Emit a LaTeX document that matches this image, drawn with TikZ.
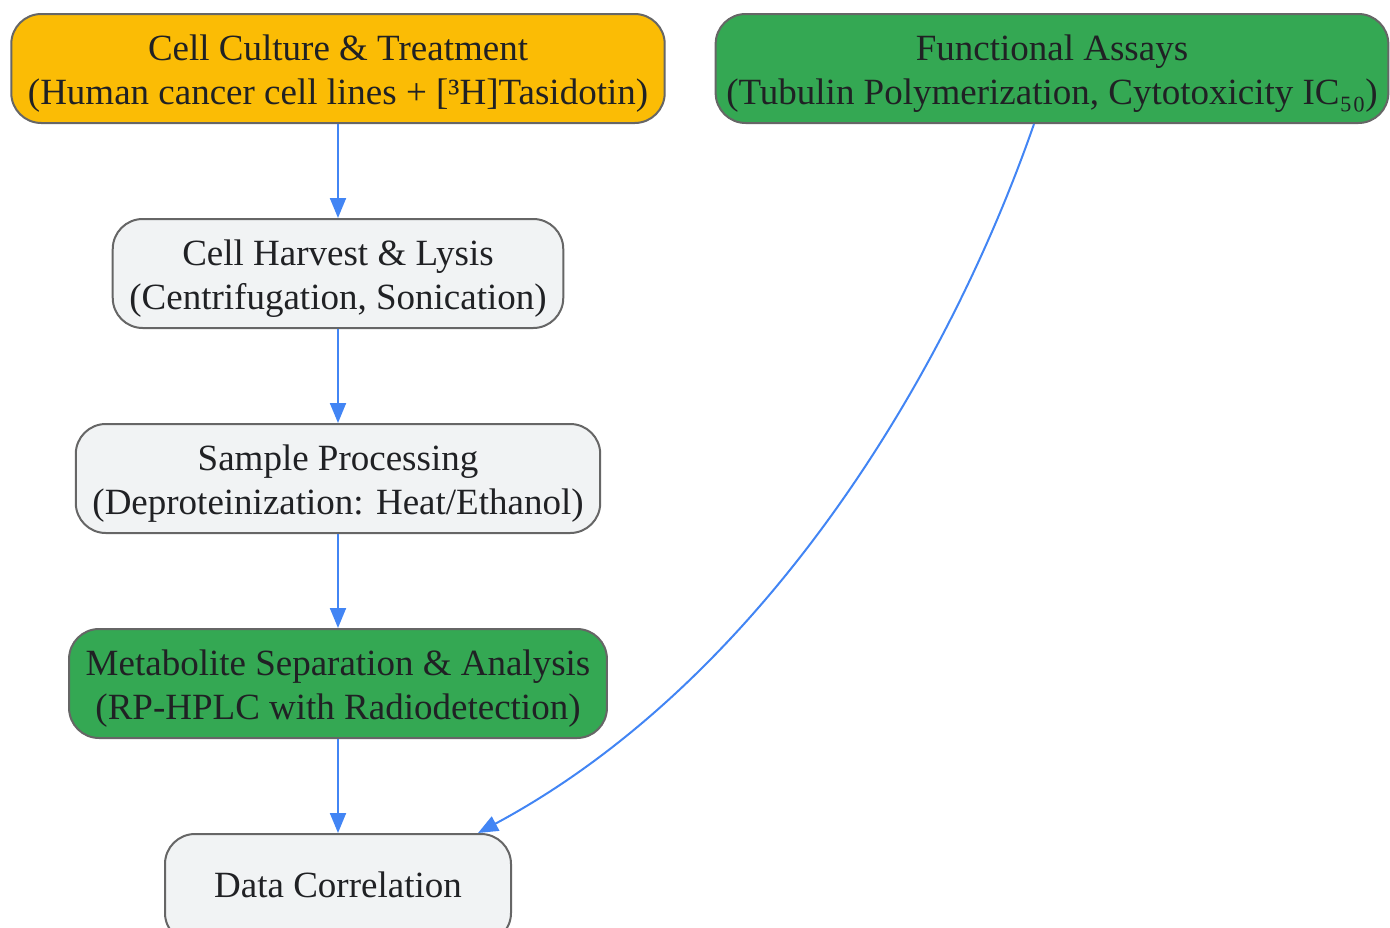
\documentclass[tikz,border=0pt]{standalone}
\usepackage{fontspec}
\setmainfont{Liberation Serif}
\usepackage{tikz}
\usetikzlibrary{positioning}
\usetikzlibrary{arrows.meta}

\definecolor{boxline}{HTML}{666666}
\definecolor{boxgrey}{HTML}{F1F3F4}
\definecolor{boxyellow}{HTML}{FBBC05}
\definecolor{boxgreen}{HTML}{34A853}
\definecolor{flowblue}{HTML}{4285F4}
\definecolor{textdark}{HTML}{202124}

% lifts the first line of a two-line label
\newcommand{\firstline}{\rule{0pt}{27pt}}

\tikzset{
  stage/.style={draw=boxline, line width=1.5pt, rounded corners=22.5pt,
    fill=boxgrey, align=center, text=textdark, inner xsep=12.5pt,
    minimum height=81.75pt, font=\fontsize{27.75}{33}\selectfont},
  oneline/.style={execute at end node={\rule[-6pt]{0pt}{1pt}}},
  startstage/.style={stage, fill=boxyellow},
  keystage/.style={stage, fill=boxgreen},
  flow/.style={draw=flowblue, line width=1.5pt,
    -{Triangle[length=15pt,width=12pt]}}
}

\begin{document}
\begin{tikzpicture}[x=0.75pt, y=0.75pt, node distance=70.5pt]
    \useasboundingbox (0,0) rectangle (1390,-928);

        % Define nodes
        \node[startstage] at (338,-68.5)    (cc) {\firstline Cell Culture \& Treatment\\(Human cancer cell lines + [³H]Tasidotin)};
        \node[keystage, inner xsep=8pt] at (1052,-68.5) (fa) {\firstline Functional Assays\\(Tubulin Polymerization, Cytotoxicity IC₅₀)};
        \node[stage, below=of cc]           (hl) {\firstline Cell Harvest \& Lysis\\(Centrifugation, Sonication)};
        \node[stage, below=of hl]           (sp) {\firstline Sample Processing\\(Deproteinization: Heat/Ethanol)};
        \node[keystage, below=of sp]        (ms) {\firstline Metabolite Separation \& Analysis\\(RP-HPLC with Radiodetection)};
        \node[stage, oneline, below=of ms, minimum width=259.5pt] (dc) {Data Correlation};
        % Connect the nodes
        \draw[flow] (cc) -- (hl);
        \draw[flow] (hl) -- (sp);
        \draw[flow] (sp) -- (ms);
        \draw[flow] (ms) -- (dc);
        \draw[flow] ([xshift=-13.5pt]fa.south) .. controls (944,-383) and (758,-683) .. ([xshift=105pt]dc.north);

\end{tikzpicture}
\end{document}
